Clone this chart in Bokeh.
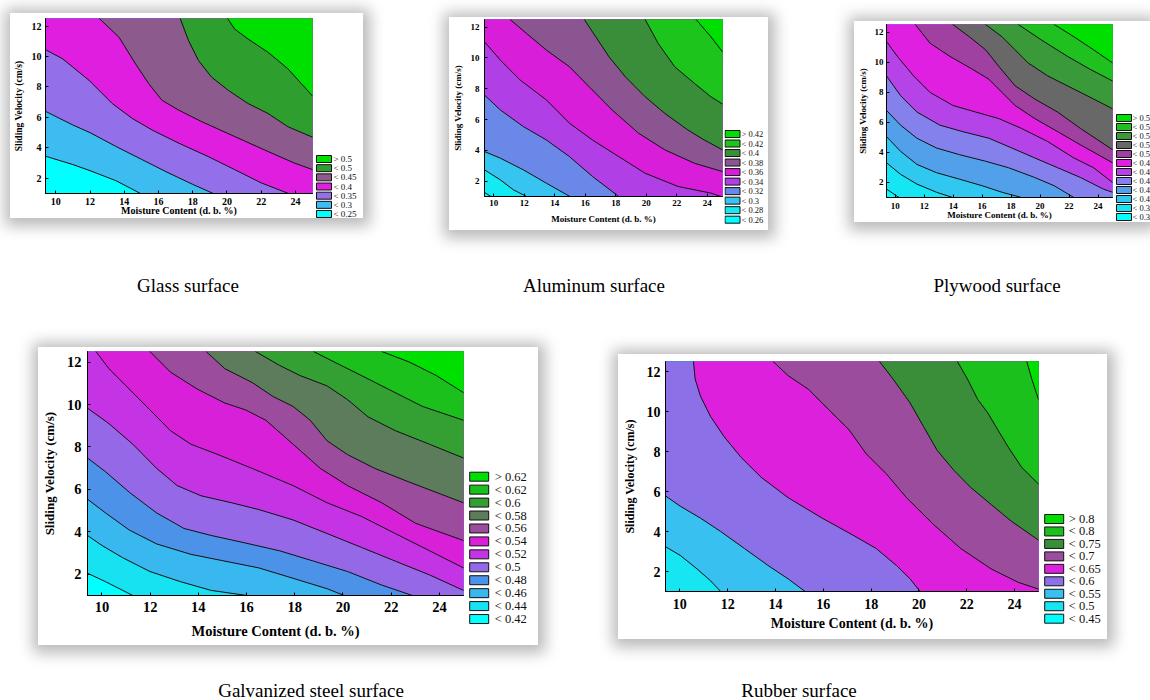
from bokeh.plotting import figure
from bokeh.models import FixedTicker, Range1d, Div, Spacer, GlobalInlineStyleSheet
from bokeh.core.properties import value
from bokeh.layouts import row, column
from bokeh.embed import file_html
from bokeh.resources import INLINE

# ---------------- data ----------------
X_MIN, X_MAX = 9.4, 25.0
Y_MIN, Y_MAX = 1.0, 12.5
X_TICKS = [10, 12, 14, 16, 18, 20, 22, 24]
Y_TICKS = [2, 4, 6, 8, 10, 12]
X_TITLE = "Moisture Content (d. b. %)"
Y_TITLE = "Sliding Velocity (cm/s)"
CAPTIONS = ["Glass surface", "Aluminum surface", "Plywood surface",
            "Galvanized steel surface", "Rubber surface"]

# Glass surface: legend labels (top -> bottom) and contour lines (ascending levels)
glass_labels = ["> 0.5", "< 0.5", "< 0.45", "< 0.4", "< 0.35", "< 0.3", "< 0.25"]
glass_lines_x = [
    [9.4, 11.0, 12.0, 13.5, 14.95],
    [9.4, 11.0, 12.0, 13.5, 15.0, 16.5, 18.0, 19.2],
    [9.4, 10.4, 11.95, 13.3, 14.47, 15.63, 17.2, 18.9, 20.45, 22.0, 23.6],
    [12.55, 13.7, 14.66, 15.43, 16.2, 17.18, 18.53, 20.46, 22.4, 23.95, 25.0],
    [17.27, 17.76, 18.34, 19.1, 20.08, 21.24, 22.4, 23.56, 25.0],
    [20.04, 20.46, 21.24, 22.4, 23.56, 25.0],
]
glass_lines_y = [
    [3.45, 2.9, 2.5, 1.85, 1.0],
    [6.4, 5.5, 5.0, 4.1, 3.25, 2.4, 1.6, 1.0],
    [10.45, 9.85, 8.43, 6.91, 5.93, 5.17, 4.3, 3.43, 2.57, 1.7, 1.0],
    [12.5, 11.26, 9.52, 8.22, 7.13, 6.48, 5.72, 4.74, 3.76, 3.0, 2.57],
    [12.5, 11.04, 9.74, 8.65, 7.78, 6.91, 6.26, 5.39, 4.7],
    [12.5, 11.8, 11.15, 10.28, 9.2, 7.41],
]

# Aluminum surface
alu_labels = ["> 0.42", "< 0.42", "< 0.4", "< 0.38", "< 0.36", "< 0.34",
              "< 0.32", "< 0.3", "< 0.28", "< 0.26"]
alu_lines_x = [
    [9.4, 9.83],
    [9.4, 10.44, 11.3, 12.16],
    [9.4, 10.44, 11.95, 13.46, 15.0],
    [9.4, 10.44, 11.95, 13.46, 14.97, 16.48, 18.2],
    [9.4, 10.44, 11.73, 13.46, 14.97, 16.48, 18.2, 19.93, 22.09, 24.24, 24.9],
    [11.08, 12.16, 13.46, 14.97, 16.26, 17.77, 19.5, 21.22, 23.16, 25.0],
    [15.94, 16.69, 17.56, 18.63, 19.93, 21.22, 22.73, 23.81, 25.0],
    [19.93, 20.79, 21.87, 23.16, 24.24, 25.0],
    [23.27, 24.24, 25.0],
]
alu_lines_y = [
    [1.26, 1.0],
    [2.73, 2.08, 1.43, 1.0],
    [3.92, 3.49, 2.73, 1.86, 1.0],
    [7.59, 6.62, 5.54, 4.67, 3.59, 2.3, 1.0],
    [11.05, 9.86, 8.57, 7.27, 5.76, 4.67, 3.59, 2.51, 1.65, 1.22, 1.0],
    [12.5, 11.59, 10.51, 9.43, 8.13, 6.62, 5.11, 4.03, 3.16, 2.62],
    [12.5, 11.38, 10.08, 8.78, 7.48, 6.4, 5.32, 4.67, 4.03],
    [12.5, 10.94, 9.43, 8.35, 7.48, 7.01],
    [12.5, 11.38, 10.4],
]

# Plywood surface
ply_labels = ["> 0.56", "< 0.56", "< 0.54", "< 0.52", "< 0.5", "< 0.48",
              "< 0.46", "< 0.44", "< 0.42", "< 0.4", "< 0.38", "< 0.36"]
ply_lines_x = [
    [9.4, 10.26],
    [9.4, 10.37, 11.5, 12.85, 13.98],
    [9.4, 10.37, 11.5, 12.85, 14.43, 16.01, 17.37, 18.72],
    [9.4, 10.37, 11.5, 12.85, 14.43, 16.24, 17.82, 19.63, 20.98, 22.33],
    [9.4, 10.37, 11.5, 13.08, 14.66, 16.47, 18.05, 19.63, 21.21, 22.79, 24.37, 25.0],
    [9.4, 10.14, 11.27, 12.4, 13.98, 15.56, 17.14, 18.72, 20.53, 22.33, 23.69, 25.0],
    [11.39, 12.4, 13.76, 15.34, 16.47, 17.37, 18.27, 19.63, 21.21, 22.79, 25.0],
    [13.98, 15.11, 16.24, 17.14, 18.27, 19.63, 21.21, 22.79, 25.0],
    [16.24, 17.37, 18.27, 19.17, 20.53, 22.33, 23.69, 25.0],
    [18.5, 20.08, 21.88, 23.46, 25.0],
    [20.98, 22.33, 23.69, 25.0],
]
ply_lines_y = [
    [1.56, 1.0],
    [3.31, 2.54, 1.89, 1.35, 1.0],
    [5.05, 4.07, 3.2, 2.65, 2.22, 1.78, 1.35, 1.0],
    [6.79, 5.81, 4.94, 4.29, 3.85, 3.41, 2.98, 2.33, 1.78, 1.0],
    [9.08, 7.77, 6.68, 5.81, 5.38, 4.94, 4.29, 3.63, 2.98, 2.33, 1.56, 1.35],
    [11.37, 10.39, 9.08, 7.99, 7.12, 6.68, 6.25, 5.59, 4.72, 3.63, 2.98, 2.0],
    [12.5, 11.26, 10.39, 9.52, 8.86, 7.99, 7.12, 6.25, 5.38, 4.5, 3.31],
    [12.5, 11.69, 10.82, 9.73, 8.43, 7.55, 6.68, 5.59, 4.18],
    [12.5, 11.69, 10.82, 9.95, 9.08, 8.21, 7.55, 6.9],
    [12.5, 11.48, 10.39, 9.52, 8.75],
    [12.5, 11.69, 10.82, 9.95],
]

# Galvanized steel surface
galv_labels = ["> 0.62", "< 0.62", "< 0.6", "< 0.58", "< 0.56", "< 0.54",
               "< 0.52", "< 0.5", "< 0.48", "< 0.46", "< 0.44", "< 0.42"]
galv_lines_x = [
    [9.4, 10.15, 11.28],
    [9.4, 10.01, 10.86, 11.99, 13.26, 14.53, 16.02],
    [9.4, 10.15, 11.14, 12.27, 13.69, 15.1, 16.51, 17.93, 19.34, 20.05],
    [9.4, 10.15, 11.14, 12.27, 13.4, 14.53, 15.81, 17.36, 18.78, 20.19, 21.61, 22.88],
    [9.4, 10.29, 11.28, 12.27, 13.12, 14.11, 15.38, 16.51, 17.93, 19.34, 20.76, 22.17, 23.59, 25.0],
    [9.75, 10.29, 11.0, 11.99, 12.84, 13.69, 14.82, 16.23, 17.93, 19.34, 20.76, 22.17, 23.59, 25.0],
    [11.99, 12.84, 13.97, 15.1, 15.95, 16.8, 17.93, 19.06, 20.19, 21.61, 23.02, 25.0],
    [14.32, 15.1, 16.23, 17.08, 17.93, 18.64, 19.34, 20.19, 21.32, 22.74, 25.0],
    [16.37, 17.36, 18.21, 19.34, 20.19, 21.04, 22.17, 23.59, 25.0],
    [18.78, 19.63, 20.76, 21.89, 23.3, 25.0],
    [21.61, 22.74, 23.87, 25.0],
]
galv_lines_y = [
    [2.05, 1.65, 1.0],
    [3.83, 3.35, 2.78, 2.13, 1.65, 1.24, 1.0],
    [5.54, 4.89, 4.08, 3.43, 2.94, 2.62, 2.3, 1.81, 1.32, 1.0],
    [7.48, 6.83, 5.86, 4.89, 4.16, 3.83, 3.51, 3.11, 2.62, 2.13, 1.49, 1.0],
    [9.83, 9.1, 8.13, 6.99, 6.18, 5.7, 5.37, 5.05, 4.56, 3.92, 3.27, 2.62, 1.97, 1.24],
    [12.5, 11.69, 10.88, 9.75, 8.77, 8.13, 7.64, 6.99, 6.18, 5.37, 4.73, 3.92, 3.11, 2.3],
    [12.5, 11.53, 10.72, 10.07, 9.75, 9.26, 8.13, 6.99, 6.18, 5.37, 4.4, 3.59],
    [12.5, 11.69, 11.04, 10.39, 9.91, 9.26, 8.29, 7.64, 6.99, 6.35, 5.37],
    [12.5, 11.85, 11.37, 10.88, 10.23, 9.42, 8.77, 8.13, 7.48],
    [12.5, 12.01, 11.37, 10.72, 9.91, 9.26],
    [12.5, 12.01, 11.37, 10.56],
]

# Rubber surface
rub_labels = ["> 0.8", "< 0.8", "< 0.75", "< 0.7", "< 0.65", "< 0.6",
              "< 0.55", "< 0.5", "< 0.45"]
rub_lines_x = [
    [9.4, 10.01, 10.72, 11.28, 11.71],
    [9.4, 10.01, 10.86, 11.71, 12.7, 13.69, 14.53, 15.24],
    [10.57, 10.64, 10.86, 11.28, 11.85, 12.55, 13.4, 14.53, 15.95, 17.22, 18.21, 19.06, 19.63, 20.05],
    [13.9, 14.53, 15.38, 16.23, 17.08, 17.79, 18.64, 19.48, 20.62, 21.75, 23.02, 24.15, 25.0],
    [18.35, 18.92, 19.63, 20.19, 20.76, 21.47, 22.17, 23.02, 23.87, 25.0],
    [21.61, 22.03, 22.46, 22.88, 23.3, 23.73, 24.29, 25.0],
    [24.51, 24.72, 25.0],
]
rub_lines_y = [
    [3.24, 2.81, 2.13, 1.54, 1.0],
    [5.78, 5.27, 4.67, 4.0, 3.15, 2.3, 1.63, 1.0],
    [12.5, 11.62, 10.77, 9.76, 8.74, 7.72, 6.71, 5.69, 4.67, 3.83, 3.15, 2.3, 1.63, 1.0],
    [12.5, 11.79, 11.11, 10.09, 9.08, 7.89, 6.88, 5.69, 4.34, 3.15, 2.13, 1.46, 1.12],
    [12.5, 11.62, 10.43, 9.25, 8.06, 7.05, 6.2, 5.35, 4.51, 3.57],
    [12.5, 11.62, 10.6, 9.93, 9.08, 8.23, 7.22, 6.37],
    [12.5, 11.62, 10.6],
]

# ---------------- styles ----------------
glass_colors = ["#00e000", "#2e9e2e", "#8c5a8c", "#e01ee0", "#9370ea", "#3cbcf0", "#00ffff"]
alu_colors = ["#00e000", "#1cc41c", "#3a8e3a", "#8a5590", "#d81ed8", "#b040e6",
              "#6a88e8", "#38c4f0", "#14eaf2", "#00ffff"]
ply_colors = ["#00e000", "#1fc01f", "#3a9a3a", "#686868", "#a040a0", "#e020e0",
              "#b444e8", "#8480ec", "#52a0ea", "#30c8f0", "#14e6f4", "#00ffff"]
galv_colors = ["#00e000", "#1cc01c", "#34a034", "#5c7c5c", "#9c4c9c", "#d820d8",
               "#c434e4", "#9468e6", "#4c92e8", "#38b8ee", "#16e2f2", "#00ffff"]
rub_colors = ["#00e000", "#1cc01c", "#3a8e3a", "#9c4c9c", "#dc20dc", "#8c70e8",
              "#38c0f0", "#16e6f2", "#00ffff"]

SERIF = "Liberation Serif"
SHADOW = "1px 2px 14px 6px rgba(0,0,0,0.28)"

# w/h: white panel; bl/bt/bb: frame offsets; fw: frame width;
# legend key: bx (swatch centre), tx (label start), c0 (first row centre), pitch, gw/gh swatch size
glass_st = dict(w=353, h=205, bl=33, fw=269, bt=5, bb=24, tick="10px", xlab="10px", ylab="9.5px",
                xms=4, xls=-3, yms=4, yls=5,
                bx=9.5, tx=19, c0=145.5, pitch=9.17, gw=15, gh=7, lfs="9px")
alu_st = dict(w=319, h=213, bl=32, fw=241, bt=2, bb=34, tick="9px", xlab="9px", ylab="9px",
              xms=3, xls=5, yms=5, yls=5,
              bx=8, tx=17, c0=116.5, pitch=9.52, gw=15, gh=7, lfs="8.5px")
ply_st = dict(w=296, h=201, bl=28, fw=230, bt=3, bb=22, tick="9px", xlab="9px", ylab="9px",
              xms=5, xls=-2, yms=3, yls=4,
              bx=9.5, tx=18, c0=96.5, pitch=9.0, gw=15, gh=7, lfs="8.5px")
galv_st = dict(w=500, h=298, bl=45, fw=380, bt=4, bb=50, tick="14.5px", xlab="14.5px", ylab="13px",
               xms=6, xls=8, yms=6, yls=7,
               bx=13.7, tx=29.3, c0=129.2, pitch=12.94, gw=19, gh=9, lfs="12.5px")
rub_st = dict(w=489, h=285, bl=47, fw=373, bt=7, bb=48, tick="14px", xlab="14px", ylab="12px",
              xms=7, xls=4, yms=5, yls=7,
              bx=13.7, tx=28.3, c0=164.5, pitch=12.46, gw=19, gh=9, lfs="12.5px")


def band_polys(n_labels, lines_x, lines_y):
    """Filled regions in drawing order: (legend index, xs, ys)."""
    span_x = X_MAX - X_MIN
    span_y = Y_MAX - Y_MIN
    far_x, far_y = X_MAX + span_x, Y_MAX + span_y
    low_x, low_y = X_MIN - span_x, Y_MIN - span_y
    n_lines = len(lines_x)
    polys = [(n_lines, [low_x, far_x, far_x, low_x], [low_y, low_y, far_y, far_y])]
    for k in range(n_lines):
        xs = list(lines_x[k]) + [far_x, far_x, lines_x[k][0]]
        ys = list(lines_y[k]) + [lines_y[k][-1], far_y, far_y]
        polys.append((n_lines - 1 - k, xs, ys))
    return polys


def make_panel(labels, colors, lines_x, lines_y, st):
    a_w = st["bl"] + st["fw"] + 2
    p = figure(width=a_w, height=st["h"],
               x_range=Range1d(X_MIN, X_MAX), y_range=Range1d(Y_MIN, Y_MAX),
               output_backend="svg", toolbar_location=None,
               min_border_left=st["bl"], min_border_right=2,
               min_border_top=st["bt"], min_border_bottom=st["bb"],
               background_fill_color="white", border_fill_color="white",
               outline_line_color="black", outline_line_width=1)
    p.grid.visible = False
    for idx, xs, ys in band_polys(len(labels), lines_x, lines_y):
        p.patch(xs, ys, fill_color=colors[idx], line_color="#111111",
                line_width=1, line_join="round")

    xa, ya = p.xaxis[0], p.yaxis[0]
    xa.ticker = FixedTicker(ticks=X_TICKS)
    ya.ticker = FixedTicker(ticks=Y_TICKS)
    xa.axis_label = X_TITLE
    ya.axis_label = Y_TITLE
    for ax, fs, ls, ms in ((xa, st["xlab"], st["xls"], st["xms"]),
                           (ya, st["ylab"], st["yls"], st["yms"])):
        ax.major_label_text_font = SERIF
        ax.major_label_text_font_style = "bold"
        ax.major_label_text_font_size = st["tick"]
        ax.major_label_text_color = "black"
        ax.axis_label_text_font = SERIF
        ax.axis_label_text_font_style = "bold"
        ax.axis_label_text_font_size = fs
        ax.axis_label_text_color = "black"
        ax.axis_label_standoff = ls
        ax.major_label_standoff = ms
        ax.major_tick_in = 3
        ax.major_tick_out = 0
        ax.major_tick_line_color = "black"
        ax.minor_tick_line_color = None
        ax.axis_line_color = "black"

    # legend key strip: one row per level, rows spaced by the strip's own y scale
    q_w = st["w"] - a_w
    top_val = st["c0"] / st["pitch"]
    span = st["h"] / st["pitch"]
    q = figure(width=q_w, height=st["h"], x_range=Range1d(0, q_w),
               y_range=Range1d(top_val - span, top_val),
               output_backend="svg", toolbar_location=None, min_border=0,
               min_border_left=0, min_border_right=0, min_border_top=0, min_border_bottom=0,
               x_axis_location=None, y_axis_location=None, outline_line_color=None,
               background_fill_color="white", border_fill_color="white")
    q.grid.visible = False
    rows = [-i for i in range(len(labels))]
    q.rect(x=st["bx"], y=rows, width=st["gw"], height=st["gh"],
           width_units="screen", height_units="screen",
           fill_color=colors, line_color="#111111", line_width=1)
    q.text(x=st["tx"], y=rows, text=labels, text_baseline="middle", text_align="left",
           text_font=value(SERIF), text_font_size=value(st["lfs"]), text_color="#111111")
    strip = column(Spacer(width=q_w, height=0), q)
    return row(p, strip, styles={"box-shadow": SHADOW}), st["w"]


def caption(text, width):
    html = ('<div style="width:%dpx;text-align:center;font-family:\'Liberation Serif\';'
            'font-size:19px;line-height:20px;color:#000;white-space:nowrap">%s</div>' % (width, text))
    return Div(text=html, width=width, height=20, margin=0)


def vpad(panel, top):
    box, w = panel
    return column(Spacer(width=w, height=top), box)


def hsp(w):
    return Spacer(width=w, height=1)


g_glass = make_panel(glass_labels, glass_colors, glass_lines_x, glass_lines_y, glass_st)
g_alu = make_panel(alu_labels, alu_colors, alu_lines_x, alu_lines_y, alu_st)
g_ply = make_panel(ply_labels, ply_colors, ply_lines_x, ply_lines_y, ply_st)
g_galv = make_panel(galv_labels, galv_colors, galv_lines_x, galv_lines_y, galv_st)
g_rub = make_panel(rub_labels, rub_colors, rub_lines_x, rub_lines_y, rub_st)

top_row = row(hsp(10), vpad(g_glass, 13), hsp(86), vpad(g_alu, 17), hsp(86), vpad(g_ply, 21))
cap_row1 = row(hsp(68), caption(CAPTIONS[0], 240), hsp(166), caption(CAPTIONS[1], 240),
               hsp(163), caption(CAPTIONS[2], 240))
bot_row = row(hsp(38), vpad(g_galv, 0), hsp(80), vpad(g_rub, 7))
cap_row2 = row(hsp(161), caption(CAPTIONS[3], 300), hsp(188), caption(CAPTIONS[4], 300))

root = column(top_row, Spacer(width=10, height=46), cap_row1, Spacer(width=10, height=51),
              bot_row, Spacer(width=10, height=36), cap_row2,
              stylesheets=[GlobalInlineStyleSheet(css="html, body { overflow: hidden; }")])

open("out.html", "w").write(file_html(root, INLINE))
